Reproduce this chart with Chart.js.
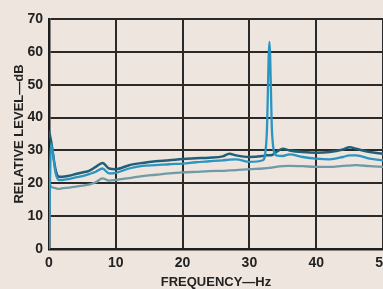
<!DOCTYPE html>
<html lang="en">
<head>
    <meta charset="UTF-8">
    <title>Relative Level vs Frequency</title>
    <script src="https://cdn.jsdelivr.net/npm/chart.js@4.4.0/dist/chart.umd.min.js"></script>
    <style>
      html, body { margin: 0; padding: 0; background: #eee5de; overflow: hidden; }
      #chartRL { display: block; }
    </style>
</head>
<body>
    <canvas id="chartRL" width="400" height="289"></canvas>
    <script>
      // frequency points (Hz), shared by all three traces
      const freqs = [0, 0.3, 1, 1.5, 2, 3, 4, 5, 6, 7, 8, 9, 10, 12, 14, 16, 18, 20, 22, 24, 26, 27, 28, 30,
                     32, 32.6, 33, 33.4, 34, 35, 36, 38, 40, 42, 44, 45, 46, 48, 50];
      // relative level (dB) for each trace
      const levelTop = [36, 33, 24, 22, 22, 22.3, 22.8, 23.3, 23.8, 25, 26.2, 24.5, 24.3, 25.5, 26.2, 26.7, 27, 27.4, 27.6, 27.8, 28.2, 29, 28.5, 28,
                        28.3, 28.5, 28.5, 28.6, 29.5, 30.5, 30, 29.5, 29.3, 29.5, 30.3, 31, 30.5, 29.5, 29];
      const levelMid = [0, 32, 23, 21, 21, 21.3, 21.8, 22.2, 22.8, 23.5, 24.5, 23, 23.2, 24.5, 25.3, 25.5, 25.8, 26, 26.4, 26.7, 27, 27.2, 27.3, 26.5,
                        27, 35, 63, 35, 28.5, 28.3, 28.8, 28, 27.5, 27.3, 28, 28.5, 28.5, 27.5, 27];
      const levelLow = [20, 19, 18.5, 18.3, 18.5, 18.7, 19, 19.3, 19.6, 20.3, 21.5, 20.8, 21, 21.6, 22.2, 22.6, 23, 23.3, 23.5, 23.7, 23.8, 23.9, 24, 24.3,
                        24.5, 24.6, 24.7, 24.8, 25, 25.2, 25.3, 25.2, 25, 25, 25.3, 25.4, 25.5, 25.2, 25];

      function pts(ys) {
        return freqs.map((f, i) => ({ x: f, y: ys[i] }));
      }

      const tickFont = { family: "'Liberation Sans Narrow', 'Liberation Sans', Arial, sans-serif", size: 14, weight: 'bold' };
      const titleFont = { family: "'Liberation Sans', Arial, sans-serif", size: 13, weight: 'bold', lineHeight: 1 };

      const ctx = document.getElementById('chartRL').getContext('2d');
      const chartRL = new Chart(ctx, {
        type: 'line',
        data: {
          datasets: [
            { label: 'B', data: pts(levelMid), borderColor: '#2b95c2', borderWidth: 2.3 },
            { label: 'A', data: pts(levelTop), borderColor: '#215f78', borderWidth: 2.5 },
            { label: 'C', data: pts(levelLow), borderColor: '#6f9aa6', borderWidth: 2.3 }
          ]
        },
        options: {
          responsive: false,
          animation: false,
          devicePixelRatio: 1,
          layout: { padding: { left: 0, right: 17, top: 19, bottom: 0 } },
          elements: {
            point: { radius: 0 },
            line: { cubicInterpolationMode: 'monotone' }
          },
          plugins: {
            legend: { display: false },
            tooltip: { enabled: false }
          },
          scales: {
            x: {
              type: 'linear',
              min: 0,
              max: 50,
              afterFit: function(scale) { scale.height = 40; },
              ticks: { stepSize: 10, padding: 6, color: '#222', font: tickFont, maxRotation: 0 },
              grid: { color: '#2a2a2a', lineWidth: 2, drawTicks: false },
              border: { color: '#1e1e1e', width: 2.5 },
              title: { display: true, text: 'FREQUENCY—Hz', color: '#222', font: titleFont, padding: { top: 0, bottom: 0 } }
            },
            y: {
              min: 0,
              max: 70,
              afterFit: function(scale) { scale.width = 49; },
              ticks: { stepSize: 10, padding: 6, color: '#222', font: tickFont },
              grid: { color: '#2a2a2a', lineWidth: 2, drawTicks: false },
              border: { color: '#1e1e1e', width: 2.5 },
              title: { display: true, text: 'RELATIVE LEVEL—dB', color: '#222', font: titleFont, padding: { top: 13, bottom: 0 } }
            }
          }
        }
      });
    </script>
</body>
</html>
